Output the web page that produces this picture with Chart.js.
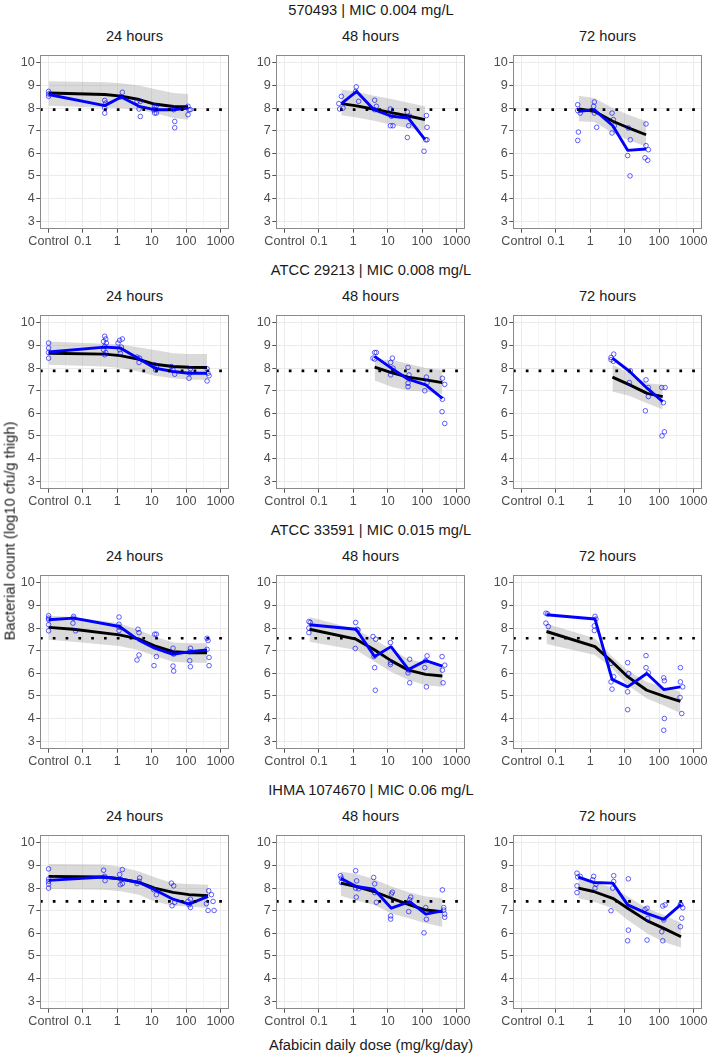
<!DOCTYPE html>
<html>
<head>
<meta charset="utf-8">
<script src="https://cdn.jsdelivr.net/npm/chart.js@4.4.1/dist/chart.umd.min.js"></script>
<style>
  body { margin: 0; background: #fff; width: 709px; height: 1056px; position: relative; overflow: hidden;
         font-family: "Liberation Sans", Arial, sans-serif; }
  canvas { position: absolute; }
  .t { position: absolute; font-size: 14.7px; color: #1a1a1a; white-space: nowrap; line-height: 1;
       transform: translate(-50%, -50%); z-index: 2; }
</style>
</head>
<body>
<script>
// facet labels
const strains = ["570493 | MIC 0.004 mg/L", "ATCC 29213 | MIC 0.008 mg/L",
                 "ATCC 33591 | MIC 0.015 mg/L", "IHMA 1074670 | MIC 0.06 mg/L"];
const times = ["24 hours", "48 hours", "72 hours"];
const stasis = [7.93, 7.88, 7.55, 7.41];

// axis ticks (control plotted at 0.01)
const xTicks = [0.01, 0.1, 1, 10, 100, 1000];
const xTickLabels = ["Control", "0.1", "1", "10", "100", "1000"];
const yTicks = [3, 4, 5, 6, 7, 8, 9, 10];

// ---- 570493 ----
const s1h24Dose = [0.01, 0.43, 1.3, 4.3, 12, 43, 115];
const s1h24Mean = [8.6, 8.11, 8.49, 8.08, 7.93, 7.93, 8.0];
const s1h24Fit  = [8.67, 8.6, 8.53, 8.38, 8.18, 8.07, 8.06];
const s1h24Hi   = [9.19, 9.14, 9.1, 9.0, 8.84, 8.67, 8.62];
const s1h24Lo   = [8.1, 8.02, 8.0, 7.93, 7.78, 7.56, 7.49];
const s1h24PtDose = [0.01, 0.01, 0.01, 0.43, 0.46, 0.43, 0.43, 1.40, 1.22, 3.74, 4.68, 4.28, 4.68,
                     12.2, 13.7, 11.4, 12.2, 13.7, 40, 43.7, 46.8, 46.8, 114, 122, 114, 134];
const s1h24PtVal  = [8.74, 8.62, 8.52, 8.34, 8.22, 8.0, 7.78, 8.7, 8.49, 8.3, 8.3, 7.96, 7.63,
                     8.1, 8.1, 7.93, 7.78, 7.78, 8.0, 7.93, 7.41, 7.13, 8.08, 7.93, 7.71, 7.93];

const s1h48Dose = [0.45, 1.25, 4.0, 12.8, 40, 122];
const s1h48Mean = [8.2, 8.74, 7.93, 7.64, 7.56, 6.6];
const s1h48Fit  = [8.2, 8.1, 7.95, 7.8, 7.65, 7.49];
const s1h48Hi   = [8.82, 8.72, 8.55, 8.4, 8.24, 8.08];
const s1h48Lo   = [7.68, 7.58, 7.44, 7.26, 7.12, 7.0];
const s1h48PtDose = [0.38, 0.45, 0.40, 0.50, 1.22, 1.17, 1.43, 4.18, 4.68, 4.18, 12.0, 12.8, 12.0, 14.3,
                     37.4, 43.7, 40.9, 37.4, 134, 140, 128, 140, 114];
const s1h48PtVal  = [8.2, 8.52, 7.96, 8.0, 8.94, 8.74, 8.3, 8.35, 8.08, 7.93, 7.96, 7.64, 7.22, 7.22,
                     7.83, 7.64, 7.22, 6.7, 7.67, 7.15, 6.6, 6.6, 6.09];

const s1h72Dose = [0.46, 1.3, 4.5, 12.2, 42];
const s1h72Mean = [7.86, 7.93, 7.22, 6.13, 6.19];
const s1h72Fit  = [7.96, 7.86, 7.42, 7.14, 6.82];
const s1h72Hi   = [8.55, 8.45, 8.0, 7.72, 7.42];
const s1h72Lo   = [7.42, 7.38, 6.9, 6.6, 6.3];
const s1h72PtDose = [0.43, 0.43, 0.51, 0.45, 0.43, 1.31, 1.25, 1.31, 1.53, 4.28, 4.68, 5.0, 4.28,
                     12.8, 14.6, 12.2, 14.3, 41.8, 41.8, 39.1, 48.9, 46.8];
const s1h72PtVal  = [8.15, 7.89, 7.78, 6.94, 6.57, 8.27, 8.08, 7.78, 7.15, 7.78, 7.49, 7.22, 6.9,
                     7.12, 6.6, 5.9, 5.0, 7.3, 6.34, 5.8, 6.16, 5.69];

// ---- ATCC 29213 ----
const s2h24Dose = [0.01, 0.43, 1.22, 4.0, 12.2, 41.8, 122, 409];
const s2h24Mean = [8.71, 8.93, 8.89, 8.44, 8.0, 7.85, 7.77, 7.77];
const s2h24Fit  = [8.66, 8.62, 8.55, 8.4, 8.17, 8.07, 8.04, 8.03];
const s2h24Hi   = [9.18, 9.08, 9.04, 8.92, 8.8, 8.66, 8.62, 8.62];
const s2h24Lo   = [8.15, 8.07, 8.0, 7.85, 7.66, 7.55, 7.48, 7.48];
const s2h24PtDose = [0.01, 0.01, 0.01, 0.01, 0.43, 0.46, 0.40, 0.48, 0.43, 0.40, 0.46, 0.43,
                     1.17, 1.40, 1.05, 1.31, 1.17, 1.22, 3.74, 4.47, 4.28, 12.2, 13.1, 13.7,
                     37.4, 41.8, 46.8, 134, 128, 122, 409, 437, 468, 409];
const s2h24PtVal  = [9.11, 8.89, 8.69, 8.44, 9.41, 9.29, 9.18, 9.11, 8.96, 8.81, 8.69, 8.59,
                     9.23, 9.29, 9.11, 8.93, 8.81, 8.66, 8.49, 8.44, 8.25, 8.15, 7.92, 8.04,
                     8.07, 7.92, 7.73, 7.97, 7.77, 7.55, 7.97, 7.77, 7.66, 7.43];

const s2h48Dose = [4.18, 12.8, 39.1, 128, 391];
const s2h48Mean = [8.52, 8.0, 7.51, 7.26, 6.66];
const s2h48Fit  = [8.04, 7.8, 7.6, 7.48, 7.36];
const s2h48Hi   = [8.37, 8.37, 8.19, 8.0, 7.92];
const s2h48Lo   = [7.45, 7.18, 7.0, 6.96, 6.85];
const s2h48PtDose = [4.18, 4.68, 3.74, 4.18, 13.7, 12.2, 14.3, 12.2, 39.1, 41.8, 39.1, 39.1,
                     134, 140, 120, 391, 457, 391, 383, 457];
const s2h48PtVal  = [8.69, 8.69, 8.44, 8.4, 8.44, 8.25, 8.0, 7.7, 8.03, 7.7, 7.33, 7.18,
                     7.6, 7.36, 7.0, 7.55, 7.28, 6.62, 6.07, 5.55];

const s2h72Dose = [4.4, 14, 45, 128];
const s2h72Mean = [8.44, 7.85, 7.11, 6.51];
const s2h72Fit  = [7.6, 7.26, 6.88, 6.74];
const s2h72Hi   = [8.15, 7.77, 7.33, 7.26];
const s2h72Lo   = [6.96, 6.77, 6.44, 6.17];
const s2h72PtDose = [4.0, 4.79, 4.0, 4.68, 14.6, 13.7, 41.8, 48.9, 48.9, 40.0, 120, 150, 134, 143, 122];
const s2h72PtVal  = [8.47, 8.62, 8.37, 8.3, 7.88, 7.36, 7.48, 7.14, 6.74, 6.11, 7.14, 7.14, 6.47, 5.18, 5.0];

// ---- ATCC 33591 ----
const s3h24Dose = [0.01, 0.053, 1.15, 4.1, 12.2, 41.8, 128, 409];
const s3h24Mean = [8.37, 8.44, 8.07, 7.48, 7.11, 6.84, 6.96, 7.03];
const s3h24Fit  = [8.03, 7.95, 7.7, 7.52, 7.21, 6.96, 6.91, 6.91];
const s3h24Hi   = [8.55, 8.49, 8.22, 7.92, 7.63, 7.36, 7.33, 7.33];
const s3h24Lo   = [7.48, 7.4, 7.21, 7.03, 6.77, 6.51, 6.47, 6.47];
const s3h24PtDose = [0.01, 0.01, 0.01, 0.01, 0.01, 0.0535, 0.0535, 0.0511, 0.0611, 1.12, 1.12, 1.12, 1.12,
                     4.0, 4.28, 4.28, 3.74, 12.2, 13.7, 13.7, 11.7, 41.8, 41.8, 43.7, 43.7,
                     134, 128, 134, 128, 409, 437, 409, 468, 468];
const s3h24PtVal  = [8.55, 8.44, 8.37, 8.15, 7.88, 8.52, 8.44, 8.22, 7.88, 8.49, 8.17, 8.04, 7.89,
                     7.95, 7.8, 6.81, 6.59, 7.73, 7.73, 6.74, 6.34, 7.11, 6.32, 6.1, 6.85,
                     7.11, 6.56, 6.29, 6.96, 7.55, 7.45, 7.06, 6.7, 6.34];

const s3h48Dose = [0.053, 1.2, 4.2, 12.5, 40, 128, 391];
const s3h48Mean = [8.15, 7.95, 6.74, 7.18, 6.17, 6.56, 6.32];
const s3h48Fit  = [7.95, 7.51, 7.03, 6.56, 6.14, 5.95, 5.88];
const s3h48Hi   = [8.49, 7.95, 7.48, 7.06, 6.63, 6.44, 6.36];
const s3h48Lo   = [7.4, 7.03, 6.51, 6.07, 5.7, 5.47, 5.4];
const s3h48PtDose = [0.051, 0.056, 0.051, 0.051, 1.17, 1.28, 1.14, 1.37, 3.74, 4.47, 4.0, 4.18, 4.37,
                     12.0, 12.2, 12.0, 43.7, 40.9, 39.1, 43.7, 140, 128, 120, 134, 383, 457, 391, 409];
const s3h48PtVal  = [8.29, 8.25, 8.0, 7.8, 8.25, 7.95, 7.1, 7.92, 7.63, 7.51, 6.74, 6.25, 5.25,
                     7.36, 6.48, 6.39, 6.62, 6.14, 6.02, 5.58, 6.77, 6.56, 6.25, 5.4, 6.74, 6.36, 6.14, 5.58];

const s3h72Dose = [0.053, 1.37, 4.3, 12.2, 44, 137, 418];
const s3h72Mean = [8.59, 8.4, 5.73, 5.4, 5.99, 5.28, 5.4];
const s3h72Fit  = [7.85, 7.18, 6.51, 5.85, 5.25, 4.99, 4.76];
const s3h72Hi   = [8.19, 7.55, 6.74, 6.14, 5.62, 5.4, 5.18];
const s3h72Lo   = [7.3, 6.81, 6.22, 5.47, 4.88, 4.58, 4.24];
const s3h72PtDose = [0.051, 0.057, 0.051, 0.06, 1.37, 1.46, 1.31, 1.31, 4.0, 4.0, 4.79, 4.28,
                     12.2, 13.1, 12.2, 12.2, 41.8, 41.8, 48.9, 137, 143, 143, 137, 418, 418, 489, 409, 457];
const s3h72PtVal  = [8.66, 8.63, 8.22, 8.07, 8.52, 8.4, 8.1, 7.89, 6.44, 5.62, 5.85, 5.3,
                     6.47, 5.99, 5.18, 4.39, 6.78, 6.25, 6.02, 5.8, 5.67, 4.0, 3.48, 6.25, 5.62, 5.4, 4.93, 4.22];

// ---- IHMA 1074670 ----
const s4h24Dose = [0.01, 0.40, 1.3, 4.3, 12.2, 41.8, 122, 437];
const s4h24Mean = [8.34, 8.49, 8.4, 8.25, 7.93, 7.51, 7.29, 7.63];
const s4h24Fit  = [8.52, 8.49, 8.4, 8.25, 8.0, 7.81, 7.71, 7.66];
const s4h24Hi   = [9.07, 9.04, 8.93, 8.74, 8.48, 8.22, 8.18, 8.15];
const s4h24Lo   = [7.96, 7.93, 7.86, 7.71, 7.41, 7.22, 7.19, 7.12];
const s4h24PtDose = [0.01, 0.01, 0.01, 0.01, 0.01, 0.40, 0.43, 0.44, 1.40, 1.17, 1.31, 1.22, 1.40,
                     4.47, 4.28, 3.74, 11.4, 13.7, 37.4, 43.7, 46.8, 39.1, 114, 134, 122, 134,
                     457, 547, 391, 611, 437, 655];
const s4h24PtVal  = [8.85, 8.4, 8.3, 8.18, 8.0, 8.79, 8.52, 8.33, 8.82, 8.6, 8.37, 8.15, 8.2,
                     8.45, 8.3, 8.2, 7.93, 7.71, 8.22, 8.1, 7.37, 7.22, 7.41, 7.51, 7.26, 7.14,
                     7.88, 7.71, 7.31, 7.41, 7.01, 7.01];

const s4h48Dose = [0.43, 1.22, 4.0, 12.8, 43.7, 128, 391];
const s4h48Mean = [8.44, 8.07, 7.95, 7.11, 7.4, 6.85, 6.99];
const s4h48Fit  = [8.22, 8.07, 7.85, 7.55, 7.26, 7.03, 6.96];
const s4h48Hi   = [8.74, 8.62, 8.4, 8.07, 7.8, 7.63, 7.55];
const s4h48Lo   = [7.66, 7.45, 7.26, 6.88, 6.66, 6.44, 6.29];
const s4h48PtDose = [0.42, 0.45, 0.45, 1.17, 1.25, 1.17, 1.43, 1.22, 3.91, 4.18, 4.18, 4.68,
                     13.7, 12.8, 12.2, 12.2, 46.8, 43.7, 40.9, 128, 134, 114, 391, 428, 428, 457, 457];
const s4h48PtVal  = [8.55, 8.44, 8.25, 8.77, 8.32, 8.0, 7.97, 7.6, 8.47, 8.19, 7.8, 7.37,
                     7.82, 7.74, 6.77, 6.63, 7.6, 7.48, 6.96, 7.14, 6.62, 6.02, 7.92, 7.14, 7.03, 6.85, 6.71];

const s4h72Dose = [0.45, 1.25, 4.5, 12.2, 44, 137, 437];
const s4h72Mean = [8.49, 8.25, 8.22, 7.26, 6.88, 6.62, 7.28];
const s4h72Fit  = [8.0, 7.85, 7.55, 7.11, 6.56, 6.22, 5.85];
const s4h72Hi   = [8.44, 8.29, 8.0, 7.63, 7.11, 6.81, 6.47];
const s4h72Lo   = [7.55, 7.4, 7.11, 6.59, 6.0, 5.62, 5.37];
const s4h72PtDose = [0.41, 0.43, 0.41, 0.41, 0.51, 1.25, 1.17, 1.46, 1.37, 4.79, 4.79, 4.47, 4.0,
                     12.8, 12.8, 12.2, 39.1, 44.7, 46.8, 44.7, 128, 150, 137, 120, 128, 418, 489, 457, 418, 437];
const s4h72PtVal  = [8.66, 8.49, 8.1, 7.8, 8.52, 8.52, 8.37, 8.17, 8.0, 8.55, 8.29, 8.0, 7.0,
                     8.41, 6.14, 5.67, 7.06, 7.11, 6.66, 5.7, 7.21, 7.26, 6.59, 6.07, 5.67, 7.28, 7.13, 6.67, 6.29, 7.26];

const panels = [
  [s1h24Dose, s1h24Mean, s1h24Fit, s1h24Lo, s1h24Hi, s1h24PtDose, s1h24PtVal],
  [s1h48Dose, s1h48Mean, s1h48Fit, s1h48Lo, s1h48Hi, s1h48PtDose, s1h48PtVal],
  [s1h72Dose, s1h72Mean, s1h72Fit, s1h72Lo, s1h72Hi, s1h72PtDose, s1h72PtVal],
  [s2h24Dose, s2h24Mean, s2h24Fit, s2h24Lo, s2h24Hi, s2h24PtDose, s2h24PtVal],
  [s2h48Dose, s2h48Mean, s2h48Fit, s2h48Lo, s2h48Hi, s2h48PtDose, s2h48PtVal],
  [s2h72Dose, s2h72Mean, s2h72Fit, s2h72Lo, s2h72Hi, s2h72PtDose, s2h72PtVal],
  [s3h24Dose, s3h24Mean, s3h24Fit, s3h24Lo, s3h24Hi, s3h24PtDose, s3h24PtVal],
  [s3h48Dose, s3h48Mean, s3h48Fit, s3h48Lo, s3h48Hi, s3h48PtDose, s3h48PtVal],
  [s3h72Dose, s3h72Mean, s3h72Fit, s3h72Lo, s3h72Hi, s3h72PtDose, s3h72PtVal],
  [s4h24Dose, s4h24Mean, s4h24Fit, s4h24Lo, s4h24Hi, s4h24PtDose, s4h24PtVal],
  [s4h48Dose, s4h48Mean, s4h48Fit, s4h48Lo, s4h48Hi, s4h48PtDose, s4h48PtVal],
  [s4h72Dose, s4h72Mean, s4h72Fit, s4h72Lo, s4h72Hi, s4h72PtDose, s4h72PtVal]
];

// layout
const colLeft = [40, 276, 513];
const rowTop = [55, 315, 575, 835];
const PW = 189, PH = 174;
const padL = 36, padT = 6, padR = 8, padB = 24;
const X_MIN = Math.pow(10, -2.25), X_MAX = Math.pow(10, 3.25);
const Y_MIN = 2.65, Y_MAX = 10.35;

// major + minor grid positions
const xGrid = [];
xTicks.forEach((v, i) => { xGrid.push(v); if (i < xTicks.length - 1) xGrid.push(Math.sqrt(v * xTicks[i + 1])); });
const yGrid = [];
yTicks.forEach((v, i) => { yGrid.push(v); if (i < yTicks.length - 1) yGrid.push(v + 0.5); });

const isMajorX = v => xTicks.indexOf(v) >= 0;
const isMajorY = v => yTicks.indexOf(v) >= 0;
const xy = (xs, ys) => xs.map((x, i) => ({ x: x, y: ys[i] }));

Chart.defaults.font.family = "'Liberation Sans', Arial, sans-serif";

const panelBorder = {
  id: "panelBorder",
  afterDraw(chart) {
    const a = chart.chartArea, g = chart.ctx;
    g.save();
    g.strokeStyle = "#8a8a8a";
    g.lineWidth = 1;
    g.strokeRect(a.left + 0.5, a.top + 0.5, a.right - a.left - 1, a.bottom - a.top - 1);
    g.restore();
  }
};

function addText(txt, x, y, extra) {
  const d = document.createElement("div");
  d.className = "t";
  d.textContent = txt;
  d.style.left = x + "px";
  d.style.top = y + "px";
  if (extra) d.style.transform = extra;
  document.body.appendChild(d);
}

function makePanel(r, c, p) {
  const cv = document.createElement("canvas");
  cv.width = PW + padL + padR;
  cv.height = PH + padT + padB;
  cv.style.left = (colLeft[c] - padL) + "px";
  cv.style.top = (rowTop[r] - padT) + "px";
  document.body.appendChild(cv);

  const tickFont = { size: 12.6 };
  new Chart(cv.getContext("2d"), {
    type: "line",
    data: {
      datasets: [
        { data: xy(p[0], p[4]), fill: "+1", backgroundColor: "rgba(153,153,153,0.36)",
          borderWidth: 0, pointRadius: 0, order: 6 },
        { data: xy(p[0], p[3]), fill: false, borderWidth: 0, pointRadius: 0, order: 7 },
        { data: xy(p[0], p[2]), borderColor: "#000", borderWidth: 2.9, pointRadius: 0, order: 5 },
        { data: xy(p[0], p[1]), borderColor: "#0000ff", borderWidth: 2.9, pointRadius: 0, order: 4 },
        { data: [{ x: X_MIN, y: stasis[r] }, { x: X_MAX, y: stasis[r] }], borderColor: "#000",
          borderWidth: 2.7, borderDash: [2.7, 10.1], borderCapStyle: "butt", pointRadius: 0, order: 3 },
        { data: xy(p[5], p[6]), showLine: false, pointRadius: 2.3, pointBorderWidth: 0.95,
          pointBorderColor: "rgba(0,0,255,0.65)", pointBackgroundColor: "rgba(0,0,0,0)", order: 1 }
      ]
    },
    options: {
      responsive: false,
      animation: false,
      devicePixelRatio: 1,
      layout: { padding: { left: 0, top: padT, right: padR, bottom: 0 } },
      plugins: { legend: { display: false }, tooltip: { enabled: false } },
      elements: { line: { tension: 0, borderJoinStyle: "round" } },
      scales: {
        x: {
          type: "logarithmic", min: X_MIN, max: X_MAX,
          afterBuildTicks: s => { s.ticks = xGrid.map(v => ({ value: v })); },
          afterFit: s => { s.height = padB; s.paddingLeft = 0; s.paddingRight = 0; },
          ticks: {
            autoSkip: false, maxRotation: 0, minRotation: 0, padding: 1,
            color: "#4d4d4d", font: tickFont,
            callback: v => { const i = xTicks.indexOf(v); return i >= 0 ? xTickLabels[i] : ""; }
          },
          grid: {
            color: "#ebebeb",
            lineWidth: ctx => (ctx.tick && isMajorX(ctx.tick.value)) ? 1 : 0.5,
            tickLength: 3.7, tickWidth: 1,
            tickColor: ctx => (ctx.tick && isMajorX(ctx.tick.value)) ? "#555" : "rgba(0,0,0,0)"
          },
          border: { display: false }
        },
        y: {
          type: "linear", min: Y_MIN, max: Y_MAX,
          afterBuildTicks: s => { s.ticks = yGrid.map(v => ({ value: v })); },
          afterFit: s => { s.width = padL; s.paddingTop = 0; s.paddingBottom = 0; },
          ticks: {
            padding: 1.5, color: "#4d4d4d", font: tickFont,
            callback: v => isMajorY(v) ? String(v) : ""
          },
          grid: {
            color: "#ebebeb",
            lineWidth: ctx => (ctx.tick && isMajorY(ctx.tick.value)) ? 1 : 0.5,
            tickLength: 3.7, tickWidth: 1,
            tickColor: ctx => (ctx.tick && isMajorY(ctx.tick.value)) ? "#555" : "rgba(0,0,0,0)"
          },
          border: { display: false }
        }
      }
    },
    plugins: [panelBorder]
  });
}

for (let r = 0; r < 4; r++) {
  for (let c = 0; c < 3; c++) {
    makePanel(r, c, panels[r * 3 + c]);
    addText(times[c], colLeft[c] + PW / 2, rowTop[r] - 19);
  }
  addText(strains[r], (colLeft[0] + colLeft[2] + PW) / 2, rowTop[r] - 45.5);
}
addText("Bacterial count (log10 cfu/g thigh)", 10, 531, "translate(-50%, -50%) rotate(-90deg)");
addText("Afabicin daily dose (mg/kg/day)", (colLeft[0] + colLeft[2] + PW) / 2, 1045);
</script>
</body>
</html>
